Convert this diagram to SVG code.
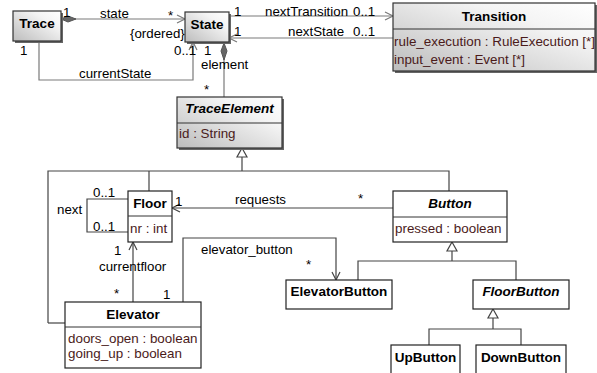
<svg xmlns="http://www.w3.org/2000/svg" width="597" height="373" viewBox="0 0 597 373">
  <style>
    text { font-family: "Liberation Sans", Arial, sans-serif; font-size: 13.3px; fill: #000; }
    .cls { font-weight: bold; font-size: 13.5px; text-anchor: middle; }
    .abs { font-style: italic; }
    .attr { fill: #4a1a1a; font-size: 13.4px; }
    .gbox { fill: url(#shade); stroke: #333; stroke-width: 1.2; }
    .shadow { fill: #666; }
    .wbox { fill: #fff; stroke: #222; stroke-width: 1.2; }
    .sep { stroke: #333; stroke-width: 1; }
    .cg { fill: none; stroke: #7a7a7a; stroke-width: 1.2; }
    .cb { fill: none; stroke: #444; stroke-width: 1.2; }
    .diam { fill: #666; stroke: #555; stroke-width: 1; }
    .tri { fill: #fff; stroke: #444; stroke-width: 1.2; }
  </style>
  <defs>
    <linearGradient id="shade" x1="0" y1="1" x2="1" y2="0">
      <stop offset="0" stop-color="#bcbcbc"/>
      <stop offset="0.7" stop-color="#f4f4f4"/>
      <stop offset="1" stop-color="#ffffff"/>
    </linearGradient>
  </defs>
  <rect width="597" height="373" fill="#fff"/>

  <!-- connectors -->
  <g id="connectors">
    <!-- Trace -> State (state, composite) -->
    <line class="cg" x1="61" y1="19" x2="185" y2="19"/>
    <polygon class="diam" points="61,19 68,16 76,19 68,22"/>
    <polyline class="cg" points="177,15 185,19 177,23"/>
    <!-- currentState -->
    <polyline class="cg" points="39,41 39,80 193,80 193,42"/>
    <polyline class="cg" points="189,50 193,42 197,50"/>
    <!-- element (composite) -->
    <line class="cg" x1="224" y1="42" x2="224" y2="97"/>
    <polygon class="diam" points="224,43 227,51 224,60 221,51"/>
    <!-- nextTransition / nextState -->
    <line class="cg" x1="229" y1="16" x2="393" y2="16"/>
    <polyline class="cg" points="385,12 393,16 385,20"/>
    <line class="cg" x1="229" y1="38" x2="393" y2="38"/>
    <polyline class="cg" points="237,34 229,38 237,42"/>

    <!-- generalization to TraceElement -->
    <polyline class="cb" points="242,157 242,171"/>
    <polyline class="cb" points="48,323 48,171 449,171 449,191"/>
    <line class="cb" x1="48" y1="323" x2="65" y2="323"/>
    <line class="cb" x1="149" y1="171" x2="149" y2="191"/>
    <polygon class="tri" points="242,148 247,157 237,157"/>

    <!-- generalization to Button -->
    <polyline class="cb" points="452,251 452,261"/>
    <polyline class="cb" points="358,280 358,261 516,261 516,280"/>
    <polygon class="tri" points="452,242 457,251 447,251"/>

    <!-- generalization to FloorButton -->
    <polyline class="cb" points="493,318 493,329"/>
    <polyline class="cb" points="429,345 429,329 521,329 521,345"/>
    <polygon class="tri" points="493,309 498,318 488,318"/>

    <!-- next (Floor self association) -->
    <polyline class="cb" points="128,199 87,199 87,232 128,232"/>
    <!-- currentfloor -->
    <line class="cb" x1="133" y1="302" x2="133" y2="242"/>
    <polyline class="cb" points="129,250 133,242 137,250"/>
    <!-- elevator_button -->
    <polyline class="cb" points="183,302 183,238 336,238 336,280"/>
    <polyline class="cb" points="332,272 336,280 340,272"/>
    <!-- requests -->
    <line class="cb" x1="393" y1="208" x2="172" y2="208"/>
    <polyline class="cb" points="180,204 172,208 180,212"/>

    <!-- association labels -->
    <text x="63" y="17">1</text>
    <text x="100" y="18">state</text>
    <text x="168" y="20">*</text>
    <text x="130" y="38">{ordered}</text>
    <text x="20" y="55">1</text>
    <text x="79" y="78">currentState</text>
    <text x="174" y="55">0..1</text>
    <text x="204" y="55">1</text>
    <text x="201" y="69">element</text>
    <text x="204" y="94">*</text>
    <text x="234" y="16">1</text>
    <text x="265" y="16">nextTransition</text>
    <text x="353" y="16">0..1</text>
    <text x="234" y="36">1</text>
    <text x="288" y="36">nextState</text>
    <text x="353" y="36">0..1</text>

    <text x="93" y="197">0..1</text>
    <text x="57" y="214">next</text>
    <text x="93" y="231">0..1</text>
    <text x="175" y="206">1</text>
    <text x="235" y="204">requests</text>
    <text x="358" y="203">*</text>
    <text x="114" y="255">1</text>
    <text x="99" y="271">currentfloor</text>
    <text x="114" y="298">*</text>
    <text x="163" y="299">1</text>
    <text x="201" y="254">elevator_button</text>
    <text x="306" y="269">*</text>
  </g>

  <!-- Trace -->
  <g id="Trace">
    <rect class="shadow" x="15" y="13" width="48" height="30"/>
    <rect class="gbox" x="13" y="11" width="48" height="30"/>
    <text class="cls" x="37" y="28">Trace</text>
  </g>

  <!-- State -->
  <g id="State">
    <rect class="shadow" x="187" y="14" width="44" height="30"/>
    <rect class="gbox" x="185" y="12" width="44" height="30"/>
    <text class="cls" x="207" y="29">State</text>
  </g>

  <!-- Transition -->
  <g id="Transition">
    <rect class="shadow" x="395" y="5" width="202" height="68"/>
    <rect class="gbox" x="393" y="3" width="202" height="68"/>
    <line class="sep" x1="393" y1="29" x2="595" y2="29"/>
    <text class="cls" x="494" y="21">Transition</text>
    <text class="attr" x="394" y="46">rule_execution : RuleExecution [*]</text>
    <text class="attr" x="394" y="64">input_event : Event [*]</text>
  </g>

  <!-- TraceElement -->
  <g id="TraceElement">
    <rect class="shadow" x="179" y="99" width="105" height="51"/>
    <rect class="gbox" x="177" y="97" width="105" height="51"/>
    <line class="sep" x1="177" y1="123" x2="282" y2="123"/>
    <text class="cls abs" x="229.5" y="113">TraceElement</text>
    <text class="attr" x="179" y="138">id : String</text>
  </g>

  <!-- Floor -->
  <g id="Floor">
    <rect class="wbox" x="128" y="191" width="44" height="51"/>
    <line class="sep" x1="128" y1="216" x2="172" y2="216"/>
    <text class="cls" x="150" y="208">Floor</text>
    <text class="attr" x="130" y="233">nr : int</text>
  </g>

  <!-- Elevator -->
  <g id="Elevator">
    <rect class="wbox" x="65" y="302" width="136" height="66"/>
    <line class="sep" x1="65" y1="327" x2="201" y2="327"/>
    <text class="cls" x="133" y="319">Elevator</text>
    <text class="attr" x="68" y="343">doors_open : boolean</text>
    <text class="attr" x="68" y="358">going_up : boolean</text>
  </g>

  <!-- Button -->
  <g id="Button">
    <rect class="wbox" x="393" y="191" width="114" height="51"/>
    <line class="sep" x1="393" y1="217" x2="507" y2="217"/>
    <text class="cls abs" x="450" y="208">Button</text>
    <text class="attr" x="395" y="233">pressed : boolean</text>
  </g>

  <!-- ElevatorButton -->
  <g id="ElevatorButton">
    <rect class="wbox" x="286" y="280" width="106" height="29"/>
    <text class="cls" x="339" y="296">ElevatorButton</text>
  </g>

  <!-- FloorButton -->
  <g id="FloorButton">
    <rect class="wbox" x="473" y="280" width="96" height="29"/>
    <text class="cls abs" x="521" y="296">FloorButton</text>
  </g>

  <!-- UpButton -->
  <g id="UpButton">
    <rect class="wbox" x="391" y="345" width="69" height="40"/>
    <text class="cls" x="425.5" y="362">UpButton</text>
  </g>

  <!-- DownButton -->
  <g id="DownButton">
    <rect class="wbox" x="476" y="345" width="90" height="40"/>
    <text class="cls" x="521" y="362">DownButton</text>
  </g>
</svg>
